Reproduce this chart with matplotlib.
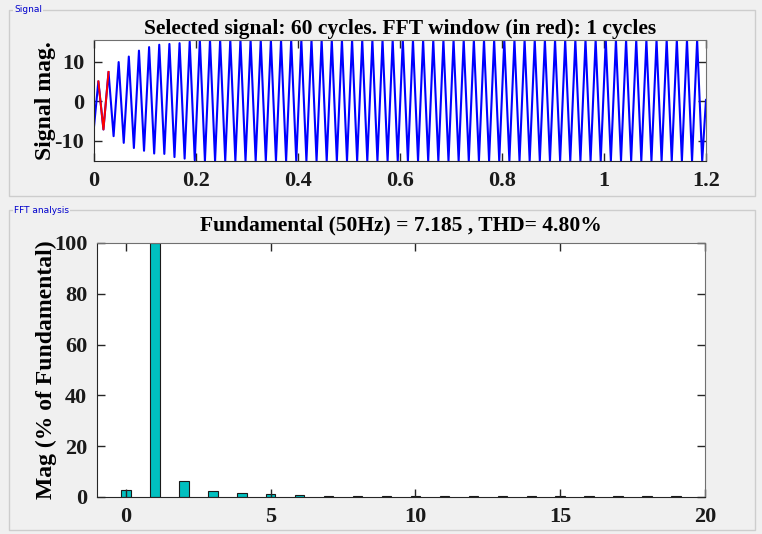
import numpy as np
import matplotlib
matplotlib.use("Agg")
import matplotlib.pyplot as plt
from matplotlib.patches import Rectangle

# signal: read-off extrema (alternating max/min) of the growing transient
signal_start = -6.4
transient_extrema = [5.0, -7.2, 7.4, -8.9, 9.9, -10.6, 11.3, -11.9, 12.8, -12.6,
                     13.7, -13.3, 14.3, -13.4, 14.5, -14.2, 14.7, -14.6, 15.1, -15.0]
steady_max = 15.5
steady_min = -15.2
n_steady_cycles = 50
signal_end = 0.3
first_extremum_time = 0.0085
extremum_spacing = 0.00995
t_end = 1.2

# FFT: harmonic order vs magnitude (% of fundamental)
harmonic_order = list(range(20))
harmonic_mag = [2.8, 100.0, 6.3, 2.4, 1.6, 1.0, 0.75, 0.55, 0.4, 0.3,
                0.3, 0.25, 0.25, 0.2, 0.2, 0.2, 0.2, 0.2, 0.2, 0.2]

signal_title = "Selected signal: 60 cycles. FFT window (in red): 1 cycles"
fft_title = "Fundamental (50Hz) = 7.185 , THD= 4.80%"

BG = "#f0f0f0"
SERIF = "Liberation Serif"
plt.rcParams["axes.unicode_minus"] = False


def build_signal():
    extrema = transient_extrema + [steady_max, steady_min] * n_steady_cycles
    t = first_extremum_time + extremum_spacing * np.arange(len(extrema))
    t = np.concatenate([[0.0], t, [t_end]])
    y = np.concatenate([[signal_start], extrema, [signal_end]])
    return t, y


def style_axes(ax):
    ax.set_facecolor("white")
    for side in ["left", "bottom"]:
        ax.spines[side].set_color("#262626")
    for side in ["top", "right"]:
        ax.spines[side].set_color("#707070")
    ax.tick_params(direction="in", length=6, width=1, top=True, right=True,
                   colors="#262626", labelsize=16, pad=7)
    for lab in ax.get_xticklabels() + ax.get_yticklabels():
        lab.set_fontfamily(SERIF)
        lab.set_fontweight("bold")
        lab.set_color("#1a1a1a")


def panel(fig, x0, y0, x1, y1, label):
    W, H = 762, 534
    rect = Rectangle((x0 / W, 1 - y1 / H), (x1 - x0) / W, (y1 - y0) / H,
                     transform=fig.transFigure, fill=False,
                     edgecolor="#cdcdcd", linewidth=1.0)
    fig.add_artist(rect)
    fig.text((x0 + 5) / W, 1 - y0 / H, label, fontsize=6.5,
             family="DejaVu Sans", color="#0000cc", va="center", ha="left",
             bbox=dict(facecolor=BG, edgecolor="none", pad=1.0))


def main():
    fig = plt.figure(figsize=(7.62, 5.34), dpi=100, facecolor=BG)
    panel(fig, 9, 10, 755, 196, "Signal")
    panel(fig, 9, 210, 755, 530, "FFT analysis")

    # top: signal
    ax1 = fig.add_axes([0.1234, 0.6985, 0.8031, 0.2266])
    t, y = build_signal()
    ax1.plot(t, y, color="#0000ff", linewidth=1.5)
    ax1.plot(t[1:4], y[1:4], color="#ff0000", linewidth=1.4)
    ax1.set_xlim(0, t_end)
    ax1.set_ylim(steady_min, steady_max)
    ax1.set_xticks([0, 0.2, 0.4, 0.6, 0.8, 1.0, 1.2])
    ax1.set_xticklabels(["0", "0.2", "0.4", "0.6", "0.8", "1", "1.2"])
    ax1.set_yticks([-10, 0, 10])
    style_axes(ax1)
    ax1.set_ylabel("Signal mag.", fontsize=17, family=SERIF, fontweight="bold",
                   labelpad=-1)
    ax1.set_title(signal_title, fontsize=15.5, family=SERIF, fontweight="bold", pad=4)

    # bottom: FFT bars
    ax2 = fig.add_axes([0.1273, 0.0693, 0.7979, 0.4757])
    ax2.bar(harmonic_order, harmonic_mag, width=0.33, color="#00c0c0",
            edgecolor="#1a1a1a", linewidth=0.8)
    ax2.set_xlim(-1, 20)
    ax2.set_ylim(0, 100)
    ax2.set_xticks([0, 5, 10, 15, 20])
    ax2.set_yticks([0, 20, 40, 60, 80, 100])
    style_axes(ax2)
    ax2.set_ylabel("Mag (% of Fundamental)", fontsize=17, family=SERIF,
                   fontweight="bold", labelpad=-2)
    ax2.set_title(fft_title, fontsize=15.5, family=SERIF, fontweight="bold", pad=9)

    fig.savefig("out.png", dpi=100, facecolor=BG)


if __name__ == "__main__":
    main()
